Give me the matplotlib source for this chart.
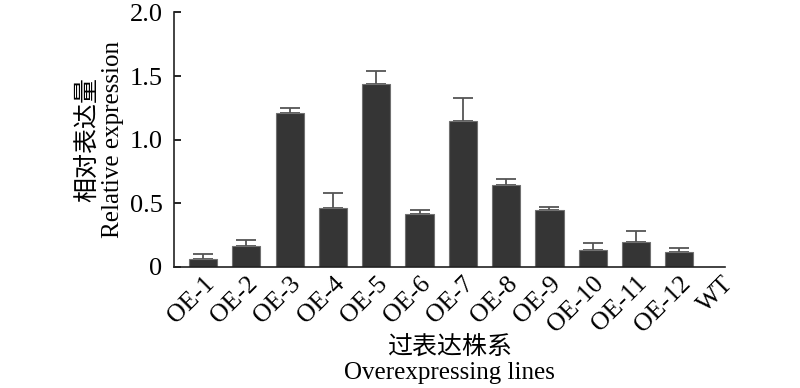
import numpy as np
import matplotlib
matplotlib.use("Agg")
import matplotlib.pyplot as plt
from matplotlib.ticker import FuncFormatter

plt.rcParams['font.family'] = ['Liberation Serif', 'Noto Sans CJK SC']

# Data
lines = ['OE-1', 'OE-2', 'OE-3', 'OE-4', 'OE-5', 'OE-6', 'OE-7',
         'OE-8', 'OE-9', 'OE-10', 'OE-11', 'OE-12', 'WT']
expression = [0.06, 0.167, 1.21, 0.466, 1.436, 0.419, 1.147,
              0.647, 0.445, 0.136, 0.199, 0.115, 0.0]
errors = [0.04, 0.043, 0.04, 0.118, 0.104, 0.029, 0.181,
          0.043, 0.025, 0.05, 0.084, 0.034, 0.0]

fig = plt.figure(figsize=(8, 3.88), dpi=100)
ax = fig.add_axes([0.217, 0.312, 0.689, 0.656])

x = np.arange(len(lines))
ax.bar(x, expression, width=0.65, color='#353535', edgecolor='#707070',
       linewidth=0.8, zorder=2)
ax.errorbar(x[:-1], expression[:-1], yerr=[np.zeros(len(x) - 1), errors[:-1]],
            fmt='none', ecolor='#555555', elinewidth=1.3, capsize=7,
            capthick=1.3, zorder=1)

ax.set_xlim(-0.68, 12.05)
ax.set_ylim(0, 2.0)
ax.set_yticks([0, 0.5, 1.0, 1.5, 2.0])
ax.yaxis.set_major_formatter(FuncFormatter(lambda v, p: '0' if v == 0 else f'{v:.1f}'))
ax.set_xticks(x)
ax.set_xticklabels(lines, rotation=45, ha='right', rotation_mode='anchor')

ax.spines['top'].set_visible(False)
ax.spines['right'].set_visible(False)
for s in ['left', 'bottom']:
    ax.spines[s].set_linewidth(1.2)
    ax.spines[s].set_color('#222222')

ax.tick_params(axis='y', direction='in', length=5, width=1.2, labelsize=19, pad=8)
ax.tick_params(axis='x', length=0, labelsize=18.5, pad=4)

ax.set_ylabel('相对表达量\nRelative expression', fontsize=18, linespacing=1.15, labelpad=4)
ax.set_xlabel('过表达株系\nOverexpressing lines', fontsize=18, linespacing=1.15, labelpad=0)

fig.savefig('out.png', dpi=100)
